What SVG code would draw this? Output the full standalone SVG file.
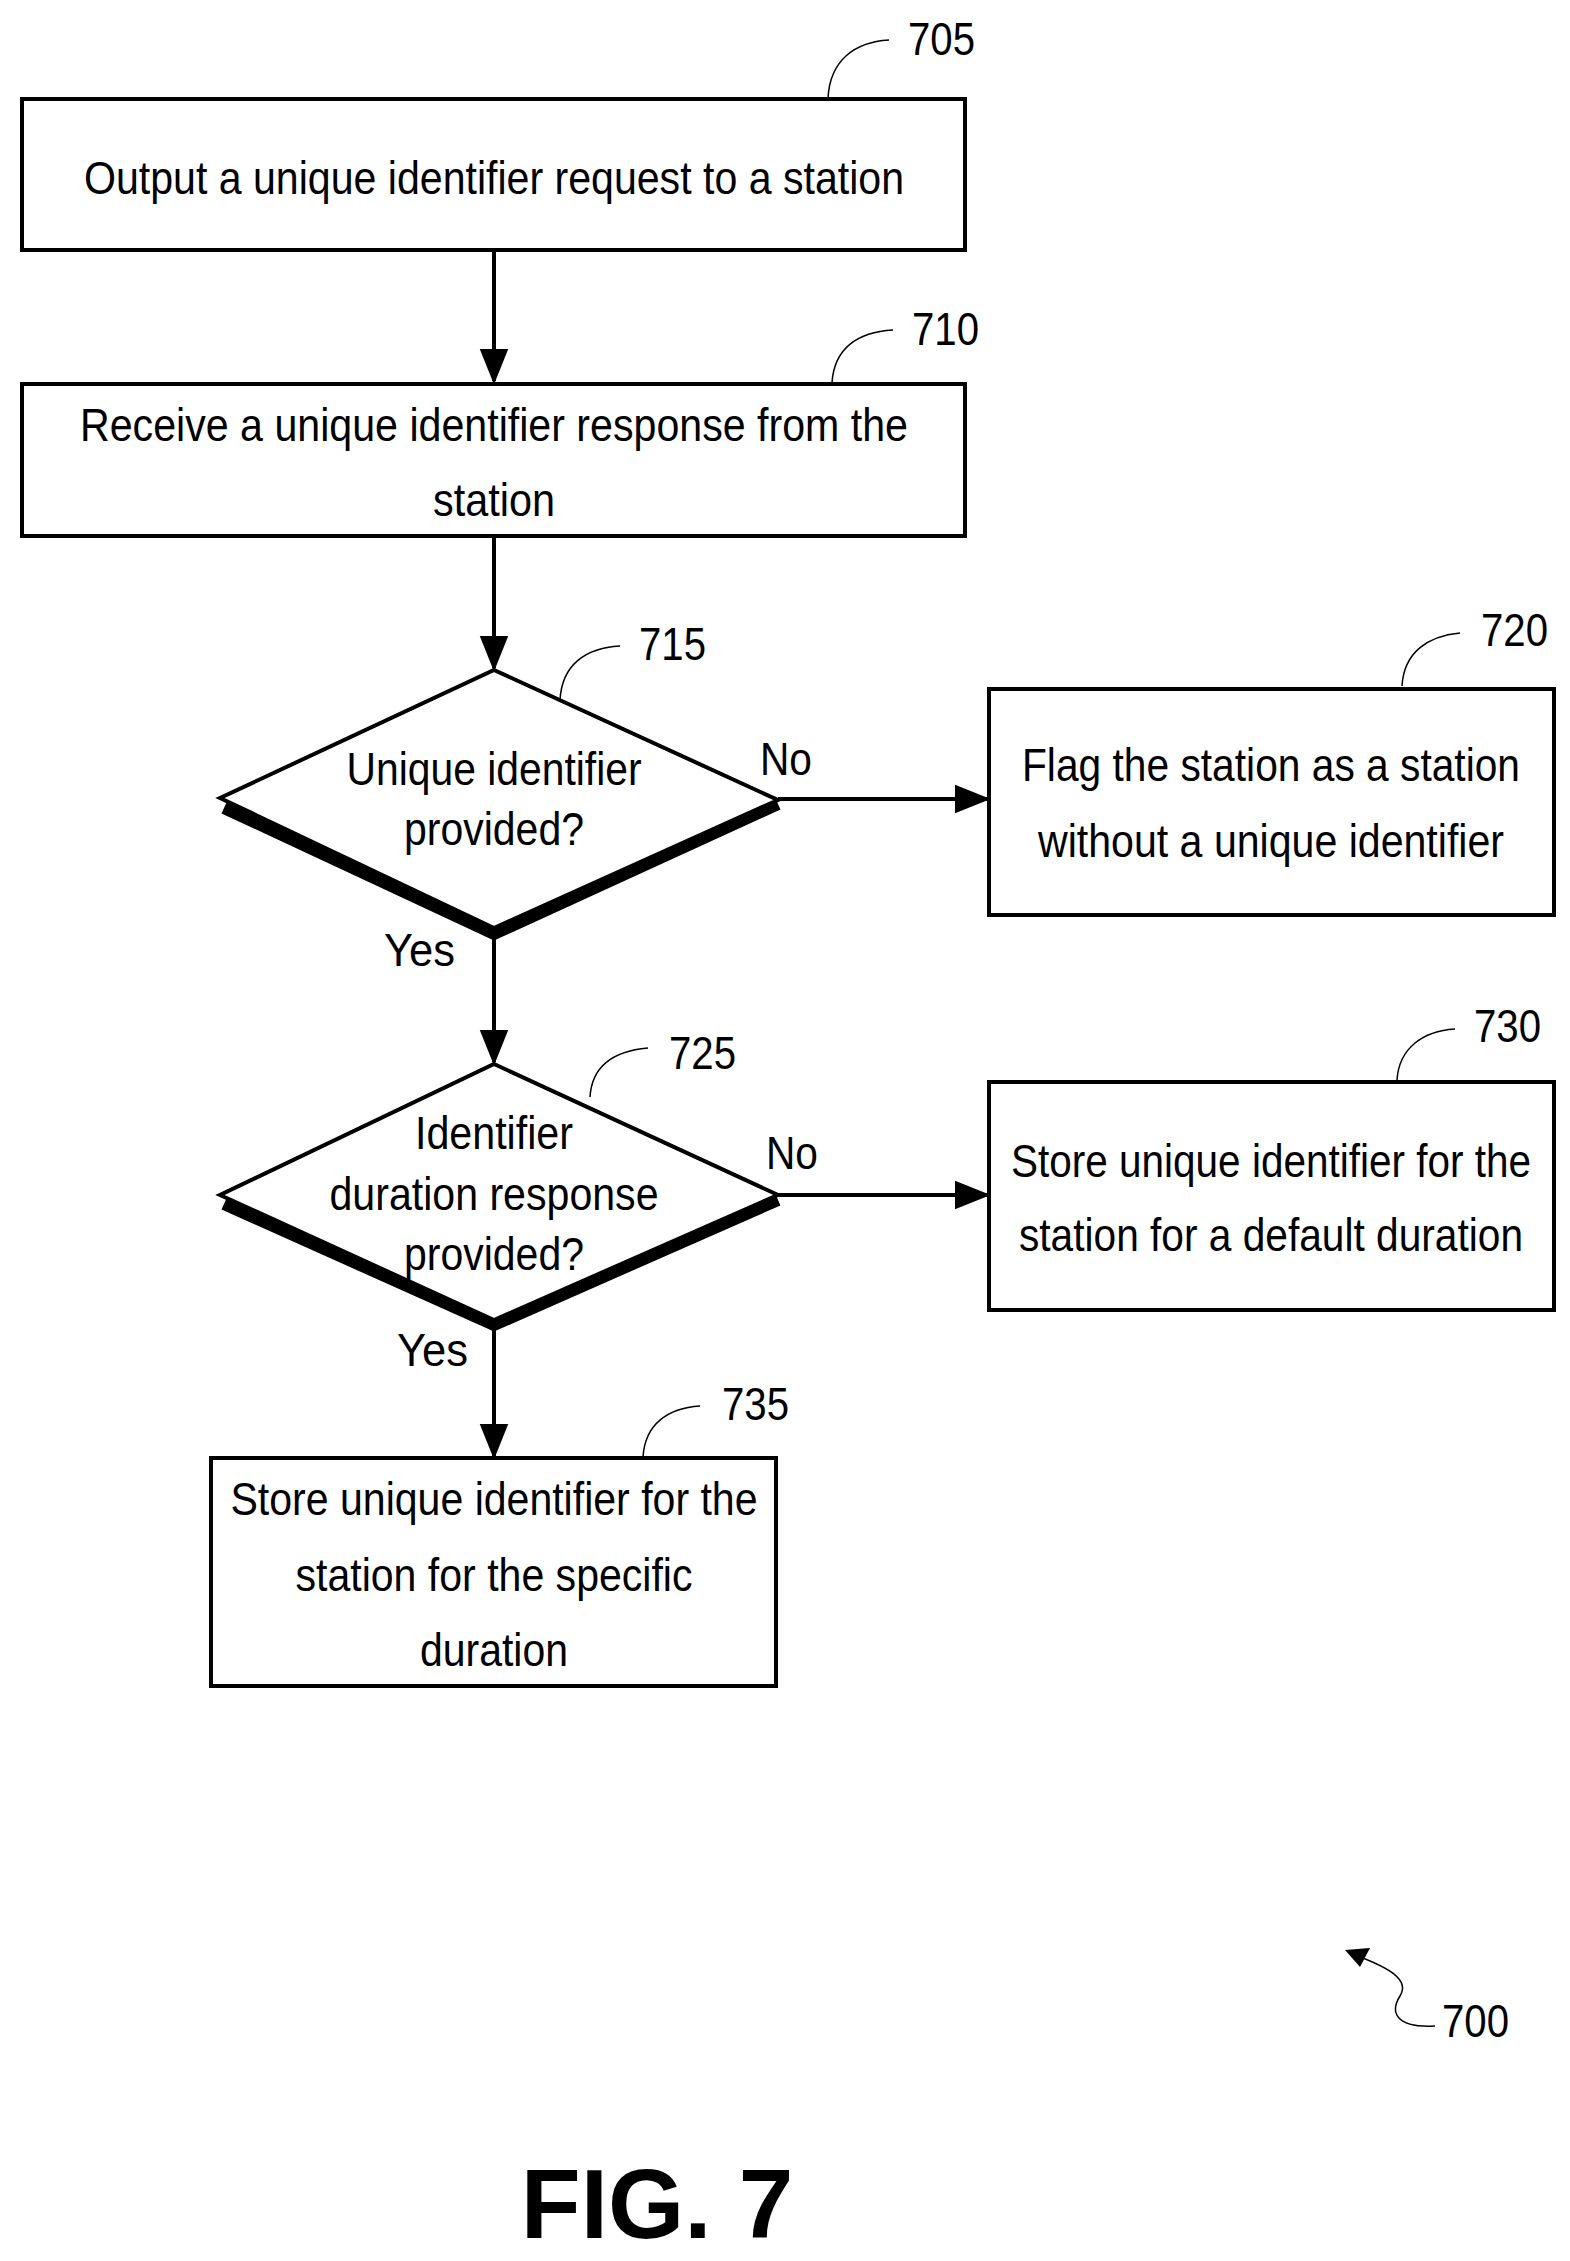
<svg xmlns="http://www.w3.org/2000/svg" width="1570" height="2261" viewBox="0 0 1570 2261">
<style>
.b{fill:#fff;stroke:#000;stroke-width:4}
.t{font-family:"Liberation Sans",Arial,sans-serif;font-size:46px;text-anchor:middle;fill:#000}
.r{font-family:"Liberation Sans",Arial,sans-serif;font-size:46px;fill:#000}
.l{fill:none;stroke:#000;stroke-width:4}
.s{fill:none;stroke:#000;stroke-width:1.5}
.sh{fill:none;stroke:#000;stroke-width:12}
</style>
<defs>
<marker id="ah" viewBox="0 0 10 10" refX="9" refY="5" markerWidth="36" markerHeight="36" markerUnits="userSpaceOnUse" orient="auto"><path d="M0,1L10,5L0,9z"/></marker></defs>
<g id="connectors">
<line class="l" x1="494" y1="250" x2="494" y2="381" marker-end="url(#ah)"/>
<line class="l" x1="494" y1="536" x2="494" y2="668" marker-end="url(#ah)"/>
<line class="l" x1="778" y1="799" x2="987" y2="799" marker-end="url(#ah)"/>
<line class="l" x1="494" y1="934" x2="494" y2="1062" marker-end="url(#ah)"/>
<line class="l" x1="778" y1="1195" x2="987" y2="1195" marker-end="url(#ah)"/>
<line class="l" x1="494" y1="1325" x2="494" y2="1456" marker-end="url(#ah)"/>
<text class="r" x="760" y="775" textLength="52" lengthAdjust="spacingAndGlyphs">No</text>
<text class="r" x="384" y="966" textLength="71" lengthAdjust="spacingAndGlyphs">Yes</text>
<text class="r" x="766" y="1169" textLength="52" lengthAdjust="spacingAndGlyphs">No</text>
<text class="r" x="397" y="1366" textLength="71" lengthAdjust="spacingAndGlyphs">Yes</text>
</g>
<g id="n705"><rect class="b" x="22" y="99" width="943" height="151"/><text class="t" x="494" y="194" textLength="820" lengthAdjust="spacingAndGlyphs">Output a unique identifier request to a station</text>
<path class="s" d="M828,98 C830,60 855,42 889,40"/><text class="r" x="908" y="55" textLength="67" lengthAdjust="spacingAndGlyphs">705</text></g>
<g id="n710"><rect class="b" x="22" y="384" width="943" height="152"/><text class="t" x="494" y="441" textLength="828" lengthAdjust="spacingAndGlyphs">Receive a unique identifier response from the</text><text class="t" x="494" y="516" textLength="122" lengthAdjust="spacingAndGlyphs">station</text>
<path class="s" d="M832,383 C834,348 858,332 893,330"/><text class="r" x="912" y="345" textLength="67" lengthAdjust="spacingAndGlyphs">710</text></g>
<g id="n715"><path class="sh" d="M224,808 L494,934 L778,804"/><path class="b" d="M494,670 L778,800 L494,928 L220,798 Z"/>
<text class="t" x="494" y="785" textLength="295" lengthAdjust="spacingAndGlyphs">Unique identifier</text><text class="t" x="494" y="845" textLength="180" lengthAdjust="spacingAndGlyphs">provided?</text>
<path class="s" d="M560,700 C562,665 585,648 620,646"/><text class="r" x="639" y="660" textLength="67" lengthAdjust="spacingAndGlyphs">715</text></g>
<g id="n720"><rect class="b" x="989" y="689" width="565" height="226"/><text class="t" x="1271" y="781" textLength="498" lengthAdjust="spacingAndGlyphs">Flag the station as a station</text><text class="t" x="1271" y="857" textLength="466" lengthAdjust="spacingAndGlyphs">without a unique identifier</text>
<path class="s" d="M1402,686 C1404,652 1428,636 1460,633"/><text class="r" x="1481" y="646" textLength="67" lengthAdjust="spacingAndGlyphs">720</text></g>
<g id="n725"><path class="sh" d="M224,1204 L494,1325 L778,1200"/><path class="b" d="M494,1064 L778,1195 L494,1320 L220,1195 Z"/>
<text class="t" x="494" y="1149" textLength="158" lengthAdjust="spacingAndGlyphs">Identifier</text><text class="t" x="494" y="1210" textLength="329" lengthAdjust="spacingAndGlyphs">duration response</text><text class="t" x="494" y="1270" textLength="180" lengthAdjust="spacingAndGlyphs">provided?</text>
<path class="s" d="M590,1097 C592,1065 614,1051 648,1048"/><text class="r" x="669" y="1069" textLength="67" lengthAdjust="spacingAndGlyphs">725</text></g>
<g id="n730"><rect class="b" x="989" y="1082" width="565" height="228"/><text class="t" x="1271" y="1177" textLength="520" lengthAdjust="spacingAndGlyphs">Store unique identifier for the</text><text class="t" x="1271" y="1251" textLength="504" lengthAdjust="spacingAndGlyphs">station for a default duration</text>
<path class="s" d="M1397,1080 C1399,1048 1423,1031 1455,1029"/><text class="r" x="1474" y="1042" textLength="67" lengthAdjust="spacingAndGlyphs">730</text></g>
<g id="n735"><rect class="b" x="211" y="1458" width="565" height="228"/><text class="t" x="494" y="1515" textLength="527" lengthAdjust="spacingAndGlyphs">Store unique identifier for the</text><text class="t" x="494" y="1591" textLength="397" lengthAdjust="spacingAndGlyphs">station for the specific</text><text class="t" x="494" y="1666" textLength="148" lengthAdjust="spacingAndGlyphs">duration</text>
<path class="s" d="M643,1457 C645,1424 668,1408 700,1406"/><text class="r" x="722" y="1420" textLength="67" lengthAdjust="spacingAndGlyphs">735</text></g>
<g id="ref700"><path class="s" d="M1435,2026 C1395,2028 1390,2012 1400,1996 C1410,1980 1390,1968 1355,1955" stroke-width="2.5"/><path d="M1345,1950 L1370,1948 L1360,1967 Z"/><text class="r" x="1442" y="2037" textLength="67" lengthAdjust="spacingAndGlyphs">700</text></g>
<text x="657" y="2238" style="font-family:'Liberation Sans',Arial,sans-serif;font-weight:bold;font-size:98px;text-anchor:middle">FIG. 7</text>
</svg>
